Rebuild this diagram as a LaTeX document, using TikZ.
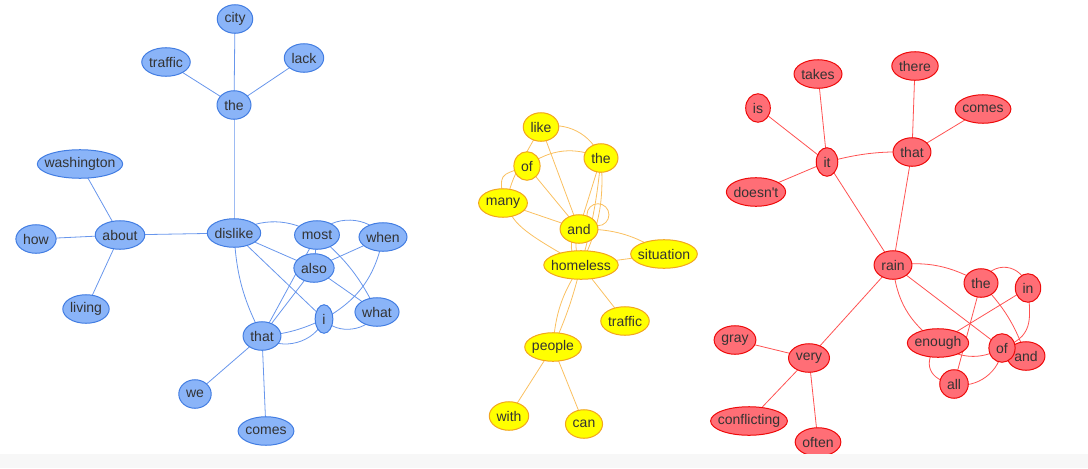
\documentclass[tikz,border=0pt]{standalone}
\usepackage{fontspec}
\setmainfont{Liberation Sans}
\usetikzlibrary{calc}

\definecolor{txtgray}{RGB}{51,51,51}
\definecolor{bluefill}{RGB}{138,180,248}
\definecolor{blueline}{RGB}{66,125,226}
\definecolor{blueedge}{RGB}{104,150,236}
\definecolor{yellowfill}{RGB}{255,255,0}
\definecolor{yellowline}{RGB}{242,165,30}
\definecolor{yellowedge}{RGB}{250,192,96}
\definecolor{redfill}{RGB}{255,110,118}
\definecolor{redline}{RGB}{238,10,10}
\definecolor{rededge}{RGB}{255,82,82}

\pgfdeclarelayer{edges}
\pgfdeclarelayer{ovals}
\pgfsetlayers{edges,ovals,main}

\begin{document}
\begin{tikzpicture}[x=0.75pt,y=0.75pt,line cap=round,line join=round,
    word/.style={inner xsep=5.25pt,inner ysep=0pt,minimum height=21pt,
      text=txtgray,font=\fontsize{10.5}{12}\selectfont},
    bedge/.style={draw=blueedge,line width=0.6pt},
    yedge/.style={draw=yellowedge,line width=0.6pt},
    redge/.style={draw=rededge,line width=0.6pt},
    boval/.style={fill=bluefill,draw=blueline,line width=0.75pt},
    yoval/.style={fill=yellowfill,draw=yellowline,line width=0.75pt},
    roval/.style={fill=redfill,draw=redline,line width=0.75pt}]
  \useasboundingbox (0,0) rectangle (1088,-468);
  \fill[black!3] (0,-454) rectangle (1088,-468);

  % blue cluster
  \node[word] (b-city) at (235,-19) {city};
  \node[word] (b-the) at (234,-105) {the};
  \node[word] (b-traffic) at (166,-62) {traffic};
  \node[word] (b-lack) at (304,-58) {lack};
  \node[word] (b-washington) at (80,-164) {washington};
  \node[word] (b-about) at (120,-235) {about};
  \node[word] (b-how) at (36,-239) {how};
  \node[word] (b-living) at (86,-309) {living};
  \node[word] (b-dislike) at (234,-233) {dislike};
  \node[word] (b-most) at (317,-235) {most};
  \node[word] (b-when) at (383,-237) {when};
  \node[word] (b-also) at (314,-268) {also};
  \node[word] (b-what) at (377,-312) {what};
  \node[word] (b-i) at (324,-319) {i};
  \node[word] (b-that) at (262,-336) {that};
  \node[word] (b-we) at (195,-394) {we};
  \node[word] (b-comes) at (266,-431) {comes};

  % yellow cluster
  \node[word] (y-like) at (541,-127) {like};
  \node[word] (y-the) at (601,-158) {the};
  \node[word] (y-of) at (527,-166) {of};
  \node[word] (y-many) at (503,-203) {many};
  \node[word] (y-and) at (579,-229) {and};
  \node[word] (y-situation) at (664,-254) {situation};
  \node[word] (y-homeless) at (581,-265) {homeless};
  \node[word] (y-traffic) at (625,-321) {traffic};
  \node[word] (y-people) at (553,-347) {people};
  \node[word] (y-with) at (509,-416) {with};
  \node[word] (y-can) at (584,-424) {can};

  % red cluster
  \node[word] (r-takes) at (818,-74) {takes};
  \node[word] (r-is) at (758,-108) {is};
  \node[word] (r-there) at (915,-66) {there};
  \node[word] (r-comes) at (983,-109) {comes};
  \node[word] (r-it) at (827,-162) {it};
  \node[word] (r-that) at (912,-152) {that};
  \node[word] (r-doesnt) at (756,-192) {doesn\textquotesingle t};
  \node[word] (r-rain) at (893,-265) {rain};
  \node[word] (r-the) at (981,-283) {the};
  \node[word] (r-in) at (1028,-288) {in};
  \node[word] (r-enough) at (938,-343) {enough};
  \node[word] (r-and) at (1026,-356) {and};
  \node[word] (r-of) at (1002,-348) {of};
  \node[word] (r-all) at (954,-384) {all};
  \node[word] (r-gray) at (735,-340) {gray};
  \node[word] (r-very) at (809,-358) {very};
  \node[word] (r-conflicting) at (749,-421) {conflicting};
  \node[word] (r-often) at (818,-442) {often};

  \begin{pgfonlayer}{ovals}
    \foreach \w in {b-city,b-the,b-traffic,b-lack,b-washington,b-about,b-how,
        b-living,b-dislike,b-most,b-when,b-also,b-what,b-i,b-that,b-we,b-comes}
      \path[boval] let \p1=($(\w.north east)-(\w.center)$) in
        (\w.center) ellipse [x radius=\x1,y radius=\y1];
    \foreach \w in {y-like,y-the,y-of,y-many,y-and,y-situation,y-homeless,
        y-traffic,y-people,y-with,y-can}
      \path[yoval] let \p1=($(\w.north east)-(\w.center)$) in
        (\w.center) ellipse [x radius=\x1,y radius=\y1];
    \foreach \w in {r-takes,r-is,r-there,r-comes,r-it,r-that,r-doesnt,r-rain,
        r-the,r-in,r-enough,r-and,r-of,r-all,r-gray,r-very,r-conflicting,r-often}
      \path[roval] let \p1=($(\w.north east)-(\w.center)$) in
        (\w.center) ellipse [x radius=\x1,y radius=\y1];
  \end{pgfonlayer}

  \begin{pgfonlayer}{edges}
    % blue edges, last value is the bend
    \foreach \a/\b/\k in {b-the/b-city/0,b-the/b-traffic/0,b-the/b-lack/0,
        b-the/b-dislike/0,b-about/b-washington/0,b-about/b-how/0,
        b-about/b-living/0,b-about/b-dislike/0,b-dislike/b-also/0,
        b-dislike/b-i/0,b-most/b-also/0,b-also/b-when/0,b-also/b-what/0,
        b-that/b-also/0,b-that/b-most/0,b-that/b-we/0,b-that/b-comes/0,
        b-dislike/b-most/30,b-most/b-when/55,b-dislike/b-that/-12,
        b-most/b-what/12,b-when/b-i/25,b-i/b-what/-60,b-that/b-i/-10,
        b-that/b-i/-55}
      \draw[bedge] (\a.center) to[bend left=\k] (\b.center);

    % yellow edges
    \foreach \a/\b/\k in {y-like/y-and/0,y-of/y-and/0,y-many/y-and/0,
        y-the/y-and/0,y-homeless/y-situation/0,y-homeless/y-traffic/0,
        y-people/y-with/0,y-people/y-can/0,y-like/y-the/40,y-of/y-the/30,
        y-the/y-homeless/5,y-the/y-homeless/15,y-and/y-situation/17,
        y-and/y-homeless/-55,y-and/y-homeless/-22,y-homeless/y-people/-15,
        y-homeless/y-people/5}
      \draw[yedge] (\a.center) to[bend left=\k] (\b.center);
    \draw[yedge] (y-of.center) to[out=200,in=95,looseness=1.8] (y-many.center);
    \draw[yedge] (y-like.center) to[out=240,in=150,looseness=1.8] (y-homeless.center);
    \draw[yedge] (y-and.north east) circle [radius=11];

    % red edges
    \foreach \a/\b/\k in {r-it/r-takes/0,r-it/r-is/0,r-it/r-doesnt/0,
        r-it/r-that/8,r-it/r-rain/0,r-that/r-there/0,r-that/r-comes/0,
        r-that/r-rain/0,r-rain/r-very/0,r-rain/r-of/0,r-very/r-gray/0,
        r-very/r-conflicting/0,r-very/r-often/0,r-the/r-all/0,r-in/r-enough/0,
        r-rain/r-the/18,r-rain/r-enough/-25,r-the/r-and/12,r-enough/r-of/-35,
        r-all/r-of/-50}
      \draw[redge] (\a.center) to[bend left=\k] (\b.center);
    \draw[redge] (r-the.center) to[bend left=70,looseness=1.4] (r-in.center);
    \draw[redge] (r-enough.center) to[bend right=60,looseness=1.5] (r-all.center);
    \draw[redge] (r-in.center) to[out=-85,in=20,looseness=1.3] (r-of.center);
  \end{pgfonlayer}
\end{tikzpicture}
\end{document}
